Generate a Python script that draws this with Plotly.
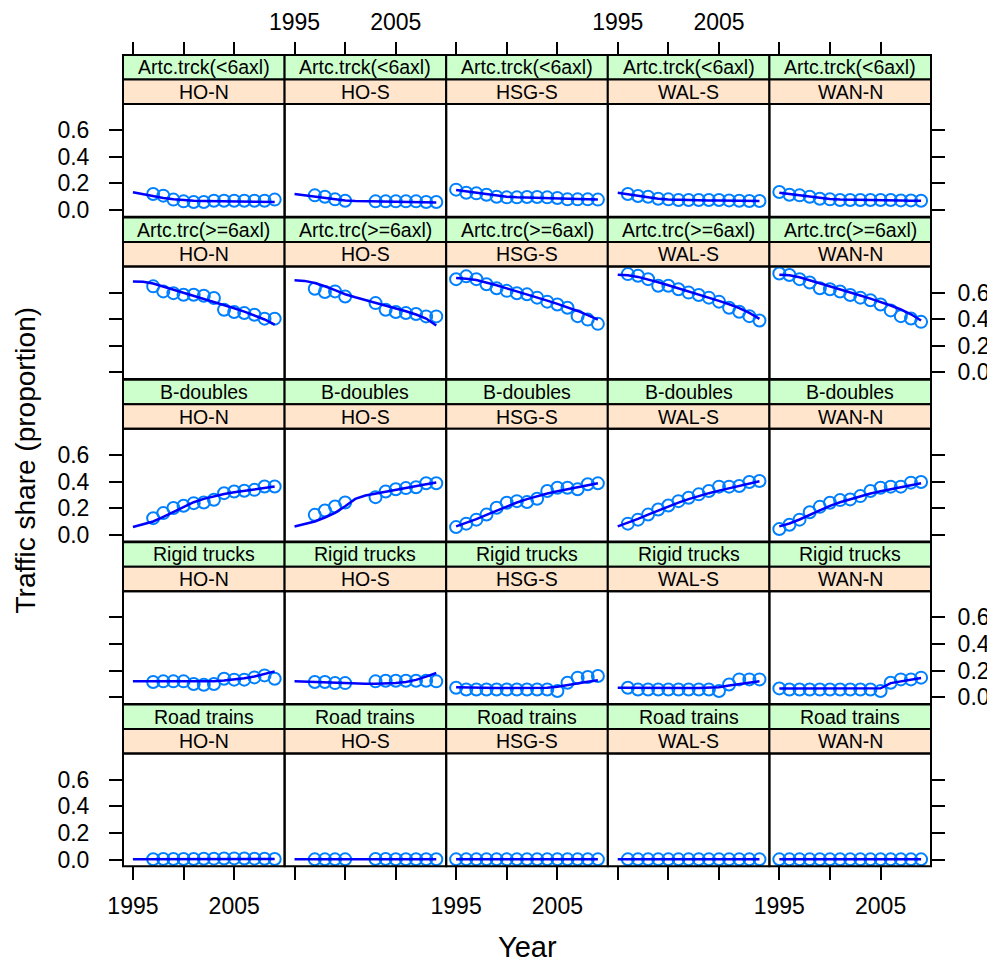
import plotly.graph_objects as go

years = list(range(1995, 2010))
sites = ["HO-N", "HO-S", "HSG-S", "WAL-S", "WAN-N"]
vehicles = ["Artc.trck(<6axl)", "Artc.trc(>=6axl)", "B-doubles", "Rigid trucks", "Road trains"]
x_tick_vals = [1995, 2000, 2005]
x_tick_text = ["1995", "", "2005"]
y_tick_vals = [0.0, 0.2, 0.4, 0.6]
y_tick_text = ["0.0", "0.2", "0.4", "0.6"]

N = None
# observed shares per site (rows follow `sites`), one value per year in `years`
obs_artc_small = [
    [N, N, 0.12, 0.108, 0.078, 0.065, 0.06, 0.06, 0.07, 0.07, 0.07, 0.07, 0.07, 0.07, 0.078],
    [N, N, 0.11, 0.10, 0.08, 0.07, N, N, 0.065, 0.065, 0.065, 0.065, 0.065, 0.06, 0.06],
    [0.153, 0.13, 0.125, 0.115, 0.10, 0.095, 0.095, 0.098, 0.098, 0.095, 0.09, 0.08, 0.08, 0.08, 0.078],
    [N, 0.12, 0.105, 0.10, 0.085, 0.08, 0.075, 0.075, 0.075, 0.075, 0.075, 0.072, 0.07, 0.068, 0.068],
    [0.135, 0.115, 0.11, 0.10, 0.085, 0.08, 0.075, 0.075, 0.075, 0.075, 0.075, 0.075, 0.072, 0.072, 0.07],
]
fit_artc_small = [
    [0.133, 0.118, 0.103, 0.09, 0.08, 0.074, 0.07, 0.068, 0.067, 0.066, 0.065, 0.064, 0.063, 0.062, 0.06],
    [0.12, 0.11, 0.10, 0.088, 0.078, 0.072, 0.068, 0.066, 0.065, 0.064, 0.063, 0.062, 0.06, 0.058, 0.057],
    [0.15, 0.14, 0.128, 0.117, 0.107, 0.10, 0.095, 0.092, 0.09, 0.088, 0.086, 0.084, 0.082, 0.08, 0.078],
    [0.13, 0.118, 0.105, 0.094, 0.085, 0.079, 0.076, 0.074, 0.073, 0.072, 0.071, 0.07, 0.069, 0.068, 0.067],
    [0.13, 0.12, 0.108, 0.097, 0.088, 0.082, 0.078, 0.076, 0.075, 0.074, 0.073, 0.072, 0.071, 0.07, 0.069],
]
obs_artc_large = [
    [N, N, 0.647, 0.609, 0.596, 0.584, 0.584, 0.576, 0.559, 0.471, 0.454, 0.446, 0.434, 0.404, 0.404],
    [N, N, 0.629, 0.604, 0.609, 0.571, N, N, 0.521, 0.471, 0.454, 0.446, 0.439, 0.421, 0.421],
    [0.701, 0.722, 0.701, 0.663, 0.633, 0.613, 0.595, 0.587, 0.562, 0.532, 0.511, 0.486, 0.423, 0.397, 0.365],
    [N, 0.739, 0.727, 0.701, 0.651, 0.651, 0.625, 0.60, 0.582, 0.562, 0.532, 0.486, 0.456, 0.423, 0.39],
    [0.744, 0.732, 0.701, 0.676, 0.633, 0.625, 0.608, 0.582, 0.562, 0.542, 0.511, 0.466, 0.423, 0.405, 0.38],
]
fit_artc_large = [
    [0.684, 0.682, 0.668, 0.645, 0.622, 0.60, 0.578, 0.555, 0.532, 0.507, 0.482, 0.457, 0.43, 0.398, 0.36],
    [0.692, 0.688, 0.672, 0.648, 0.618, 0.588, 0.565, 0.545, 0.525, 0.505, 0.483, 0.46, 0.435, 0.405, 0.352],
    [0.709, 0.705, 0.695, 0.677, 0.655, 0.632, 0.61, 0.588, 0.565, 0.54, 0.515, 0.49, 0.462, 0.43, 0.397],
    [0.734, 0.73, 0.718, 0.70, 0.678, 0.655, 0.632, 0.61, 0.587, 0.563, 0.538, 0.512, 0.484, 0.447, 0.403],
    [0.734, 0.73, 0.715, 0.693, 0.668, 0.645, 0.622, 0.60, 0.578, 0.555, 0.53, 0.503, 0.473, 0.437, 0.39],
]
obs_bdoubles = [
    [N, N, 0.125, 0.163, 0.201, 0.218, 0.238, 0.243, 0.263, 0.313, 0.326, 0.331, 0.338, 0.363, 0.363],
    [N, N, 0.15, 0.183, 0.213, 0.243, N, N, 0.283, 0.326, 0.343, 0.351, 0.358, 0.388, 0.388],
    [0.058, 0.084, 0.114, 0.152, 0.203, 0.241, 0.253, 0.246, 0.271, 0.329, 0.354, 0.354, 0.342, 0.38, 0.387],
    [N, 0.084, 0.114, 0.152, 0.19, 0.22, 0.253, 0.278, 0.304, 0.329, 0.362, 0.362, 0.367, 0.397, 0.405],
    [0.043, 0.076, 0.114, 0.17, 0.21, 0.241, 0.261, 0.266, 0.291, 0.329, 0.354, 0.362, 0.362, 0.392, 0.397],
]
fit_bdoubles = [
    [0.058, 0.078, 0.10, 0.135, 0.172, 0.21, 0.245, 0.27, 0.29, 0.307, 0.32, 0.332, 0.343, 0.353, 0.363],
    [0.063, 0.08, 0.10, 0.13, 0.165, 0.215, 0.27, 0.295, 0.31, 0.325, 0.34, 0.355, 0.368, 0.38, 0.393],
    [0.063, 0.088, 0.118, 0.15, 0.183, 0.215, 0.243, 0.268, 0.29, 0.31, 0.327, 0.342, 0.356, 0.371, 0.387],
    [0.063, 0.09, 0.12, 0.152, 0.183, 0.213, 0.242, 0.268, 0.292, 0.313, 0.332, 0.35, 0.367, 0.385, 0.402],
    [0.063, 0.085, 0.115, 0.15, 0.185, 0.218, 0.245, 0.268, 0.29, 0.31, 0.328, 0.343, 0.357, 0.372, 0.387],
]
obs_rigid = [
    [N, N, 0.114, 0.119, 0.119, 0.119, 0.099, 0.094, 0.099, 0.139, 0.132, 0.132, 0.149, 0.164, 0.139],
    [N, N, 0.114, 0.114, 0.106, 0.106, N, N, 0.119, 0.124, 0.124, 0.124, 0.124, 0.124, 0.119],
    [0.071, 0.058, 0.058, 0.058, 0.058, 0.058, 0.058, 0.058, 0.058, 0.058, 0.046, 0.109, 0.147, 0.152, 0.159],
    [N, 0.071, 0.058, 0.058, 0.058, 0.058, 0.058, 0.058, 0.058, 0.058, 0.046, 0.096, 0.134, 0.134, 0.134],
    [0.066, 0.058, 0.058, 0.058, 0.058, 0.058, 0.058, 0.058, 0.058, 0.058, 0.046, 0.109, 0.134, 0.134, 0.147],
]
fit_rigid = [
    [0.119, 0.119, 0.118, 0.117, 0.116, 0.116, 0.116, 0.117, 0.12, 0.125, 0.133, 0.143, 0.156, 0.174, 0.194],
    [0.119, 0.116, 0.113, 0.11, 0.107, 0.104, 0.102, 0.101, 0.101, 0.103, 0.107, 0.115, 0.13, 0.155, 0.182],
    [0.074, 0.072, 0.071, 0.07, 0.07, 0.07, 0.07, 0.07, 0.07, 0.071, 0.078, 0.092, 0.105, 0.116, 0.127],
    [0.071, 0.07, 0.07, 0.069, 0.069, 0.069, 0.069, 0.069, 0.069, 0.07, 0.075, 0.088, 0.10, 0.11, 0.12],
    [0.066, 0.066, 0.066, 0.066, 0.066, 0.066, 0.066, 0.066, 0.066, 0.066, 0.067, 0.106, 0.12, 0.132, 0.145],
]
obs_road = [
    [N, N, 0.003, 0.004, 0.004, 0.005, 0.005, 0.006, 0.007, 0.008, 0.009, 0.008, 0.007, 0.006, 0.005],
    [N, N, 0.002, 0.002, 0.002, 0.002, N, N, 0.004, 0.004, 0.003, 0.003, 0.003, 0.003, 0.003],
    [0.002, 0.002, 0.002, 0.002, 0.002, 0.002, 0.002, 0.002, 0.002, 0.002, 0.002, 0.002, 0.002, 0.002, 0.002],
    [N, 0.002, 0.002, 0.002, 0.002, 0.002, 0.002, 0.002, 0.002, 0.002, 0.002, 0.002, 0.002, 0.002, 0.002],
    [0.002, 0.002, 0.002, 0.002, 0.002, 0.002, 0.002, 0.002, 0.002, 0.002, 0.002, 0.002, 0.002, 0.002, 0.002],
]
fit_road = [
    [0.003, 0.003, 0.003, 0.004, 0.004, 0.005, 0.005, 0.006, 0.006, 0.007, 0.007, 0.007, 0.006, 0.006, 0.005],
    [0.002, 0.002, 0.002, 0.002, 0.002, 0.003, 0.003, 0.003, 0.003, 0.003, 0.003, 0.003, 0.003, 0.003, 0.003],
    [0.002] * 15,
    [0.002] * 15,
    [0.002] * 15,
]

obs_all = [obs_artc_small, obs_artc_large, obs_bdoubles, obs_rigid, obs_road]
fit_all = [fit_artc_small, fit_artc_large, fit_bdoubles, fit_rigid, fit_road]

# ---------------- layout geometry (page pixels) ----------------
OFF = 8                      # browser body margin
W, H = 995 - OFF, 964 - OFF  # figure size so that it fills the window
COL_LEFT, COL_W = 123.0, 161.6
ROW_TOP, ROW_PITCH = 55.0, 162.4
STRIP_H, PANEL_H = 24.5, 112.7
XR = [1994.02, 2009.98]
YR = [-0.0504, 0.797]
FONT = "Liberation Sans, Arial, sans-serif"
GREEN, PEACH = "#ccffcc", "#ffe5cc"


def px(x):
    return (x - OFF) / W


def py(y):
    return 1 - (y - OFF) / H


fig = go.Figure()
layout = {}
shapes = []
annotations = []

for r in range(5):
    G = ROW_TOP + ROW_PITCH * r
    P = G + STRIP_H
    T = P + STRIP_H
    B = T + PANEL_H
    for c in range(5):
        k = r * 5 + c + 1
        L = COL_LEFT + COL_W * c
        R = L + COL_W
        xa = dict(domain=[px(L), px(R)], range=XR, showgrid=False, zeroline=False,
                  showline=False, tickvals=x_tick_vals, ticktext=x_tick_text, tickangle=0,
                  tickfont=dict(family=FONT, size=23, color="black"),
                  tickcolor="black", tickwidth=2, ticklen=13, fixedrange=True)
        if r == 0:
            xa.update(side="top", anchor="free", position=py(G), ticks="outside",
                      showticklabels=(c in (1, 3)), ticklabelstandoff=3)
        elif r == 4:
            xa.update(side="bottom", anchor=f"y{k}", ticks="outside",
                      showticklabels=(c in (0, 2, 4)), ticklabelstandoff=6)
        else:
            xa.update(anchor=f"y{k}", ticks="", showticklabels=False)
        ya = dict(domain=[py(B), py(T)], range=YR, anchor=f"x{k}", showgrid=False,
                  zeroline=False, showline=False, tickvals=y_tick_vals,
                  ticktext=y_tick_text,
                  tickfont=dict(family=FONT, size=23, color="black"),
                  tickcolor="black", tickwidth=2, ticklen=13, fixedrange=True)
        if c == 0:
            ya.update(side="left", ticks="outside", showticklabels=(r in (0, 2, 4)),
                      ticklabelstandoff=15)
        elif c == 4:
            ya.update(side="right", ticks="outside", showticklabels=(r in (1, 3)),
                      ticklabelstandoff=8)
        else:
            ya.update(ticks="", showticklabels=False)
        layout["xaxis" if k == 1 else f"xaxis{k}"] = xa
        layout["yaxis" if k == 1 else f"yaxis{k}"] = ya

        fig.add_trace(go.Scatter(
            x=years, y=obs_all[r][c], mode="markers",
            marker=dict(symbol="circle-open", size=12, color="#0080ff",
                        line=dict(width=2, color="#0080ff")),
            xaxis=f"x{k}", yaxis=f"y{k}", showlegend=False, hoverinfo="x+y"))
        fig.add_trace(go.Scatter(
            x=years, y=fit_all[r][c], mode="lines",
            line=dict(color="#0000ff", width=2.5),
            xaxis=f"x{k}", yaxis=f"y{k}", showlegend=False, hoverinfo="x+y"))

        shapes.append(dict(type="rect", xref="paper", yref="paper", x0=px(L), x1=px(R),
                           y0=py(P), y1=py(G), fillcolor=GREEN,
                           line=dict(color="black", width=2), layer="below"))
        shapes.append(dict(type="rect", xref="paper", yref="paper", x0=px(L), x1=px(R),
                           y0=py(T), y1=py(P), fillcolor=PEACH,
                           line=dict(color="black", width=2), layer="below"))
        shapes.append(dict(type="rect", xref="paper", yref="paper", x0=px(L), x1=px(R),
                           y0=py(B), y1=py(T), fillcolor="rgba(0,0,0,0)",
                           line=dict(color="black", width=2), layer="above"))
        annotations.append(dict(text=vehicles[r], x=px((L + R) / 2), y=py(G + STRIP_H / 2),
                                xref="paper", yref="paper", showarrow=False,
                                xanchor="center", yanchor="middle",
                                font=dict(family=FONT, size=19.5, color="black")))
        annotations.append(dict(text=sites[c], x=px((L + R) / 2), y=py(P + STRIP_H / 2),
                                xref="paper", yref="paper", showarrow=False,
                                xanchor="center", yanchor="middle",
                                font=dict(family=FONT, size=19.5, color="black")))

annotations.append(dict(text="Traffic share (proportion)", x=px(25), y=py(460.5),
                        xref="paper", yref="paper", showarrow=False, textangle=-90,
                        xanchor="center", yanchor="middle", borderpad=0,
                        font=dict(family=FONT, size=28, color="black")))
annotations.append(dict(text="Year", x=px(527), y=py(947),
                        xref="paper", yref="paper", showarrow=False,
                        xanchor="center", yanchor="middle",
                        font=dict(family=FONT, size=29, color="black")))

fig.update_layout(**layout)
fig.update_layout(
    width=W, height=H, margin=dict(l=0, r=0, t=0, b=0),
    paper_bgcolor="white", plot_bgcolor="white",
    template="none", shapes=shapes, annotations=annotations,
    font=dict(family=FONT, color="black"), showlegend=False,
)
fig.write_html("out.html")
